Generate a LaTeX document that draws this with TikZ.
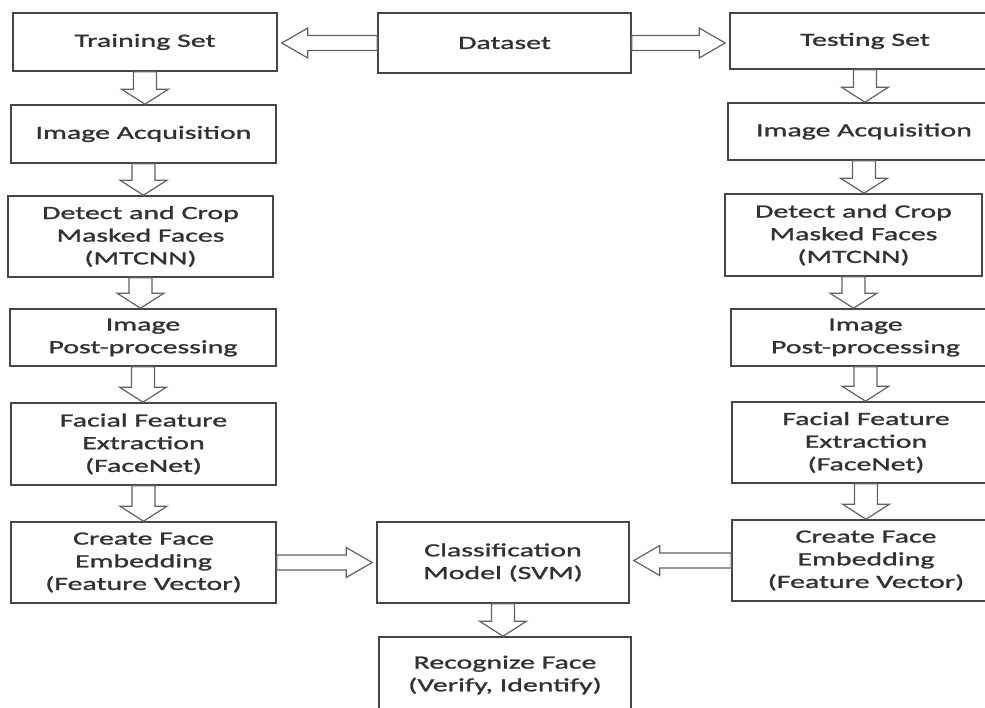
\documentclass[tikz,border=0pt]{standalone}
\usepackage{fontspec}
\setmainfont{Carlito}[FakeStretch=1.6, FakeBold=1.3]
\usetikzlibrary{calc}
\definecolor{garisabu}{RGB}{70,70,70}
\definecolor{teksabu}{RGB}{50,50,50}

\tikzset{
  box/.style 2 args={draw=garisabu, line width=1.2pt, align=center, text=teksabu,
    minimum width=#1*0.75pt, minimum height=#2*0.75pt, inner sep=0pt,
    font=\fontsize{14}{17}\selectfont},
  blockarrow/.style={draw=garisabu!85, line width=0.9pt, fill=white, line join=miter}
}

% hollow block arrows between two boxes
\newcommand{\flowdown}[2]{%
  \draw[blockarrow] let \p1=(#1.south), \p2=(#2.north) in
    (\x1-8.6pt,\y1) -- (\x1-8.6pt,\y2+11.25pt) -- (\x1-17.6pt,\y2+11.25pt)
    -- (\x1,\y2) -- (\x1+17.6pt,\y2+11.25pt) -- (\x1+8.6pt,\y2+11.25pt)
    -- (\x1+8.6pt,\y1) -- cycle;}
\newcommand{\flowright}[2]{%
  \draw[blockarrow] let \p1=(#1.east), \p2=(#2.west) in
    (\x1,\y1+5.6pt) -- (\x2-22.5pt,\y1+5.6pt) -- (\x2-22.5pt,\y1+11.25pt)
    -- (\x2-3pt,\y1) -- (\x2-22.5pt,\y1-11.25pt) -- (\x2-22.5pt,\y1-5.6pt)
    -- (\x1,\y1-5.6pt) -- cycle;}
\newcommand{\flowleft}[2]{%
  \draw[blockarrow] let \p1=(#1.west), \p2=(#2.east) in
    (\x1,\y1+5.6pt) -- (\x2+22.5pt,\y1+5.6pt) -- (\x2+22.5pt,\y1+11.25pt)
    -- (\x2+3pt,\y1) -- (\x2+22.5pt,\y1-11.25pt) -- (\x2+22.5pt,\y1-5.6pt)
    -- (\x1,\y1-5.6pt) -- cycle;}

\begin{document}
\begin{tikzpicture}[x=0.75pt, y=-0.75pt]
    \fill[white] (0,0) rectangle (985,707);
    \useasboundingbox (0,0) rectangle (985,707);

    % training side
    \foreach \n/\x/\y/\w/\h/\txt in {
        train/145/42/264/58/{Training Set},
        acqL/143.5/134/265/58/{Image Acquisition},
        detL/140.5/236.5/265/81/{Detect and Crop\\Masked Faces\\(MTCNN)},
        postL/143/337.5/266/57/{Image\\Post-processing},
        featL/143.5/444/265/82/{Facial Feature\\Extraction\\(FaceNet)},
        embL/143.5/562.5/265/81/{Create Face\\Embedding\\(Feature Vector)}}
    {
        \node[box={\w}{\h}] (\n) at (\x,\y) {\txt};
    }

    % testing side
    \foreach \n/\x/\y/\w/\h/\txt in {
        test/865/41/270/56/{Testing Set},
        acqR/864/131.5/272/57/{Image Acquisition},
        detR/853.5/235/257/82/{Detect and Crop\\Masked Faces\\(MTCNN)},
        postR/865.5/337.5/269/57/{Image\\Post-processing},
        featR/866/442.5/268/81/{Facial Feature\\Extraction\\(FaceNet)},
        embR/866/560.5/268/81/{Create Face\\Embedding\\(Feature Vector)}}
    {
        \node[box={\w}{\h}] (\n) at (\x,\y) {\txt};
    }

    % middle
    \node[box={253}{60}] (data) at (504.5,43) {Dataset};
    \node[box={252}{81}] (svm) at (503,562.5) {Classification\\Model (SVM)};
    \node[box={252}{76}] (recog) at (505,675) {Recognize Face\\(Verify, Identify)};

    % arrows
    \flowleft{data}{train}
    \flowright{data}{test}
    \foreach \a/\b in {train/acqL, acqL/detL, detL/postL, postL/featL, featL/embL,
                       test/acqR, acqR/detR, detR/postR, postR/featR, featR/embR, svm/recog}
        \flowdown{\a}{\b};
    \flowright{embL}{svm}
    \flowleft{embR}{svm}
\end{tikzpicture}
\end{document}
